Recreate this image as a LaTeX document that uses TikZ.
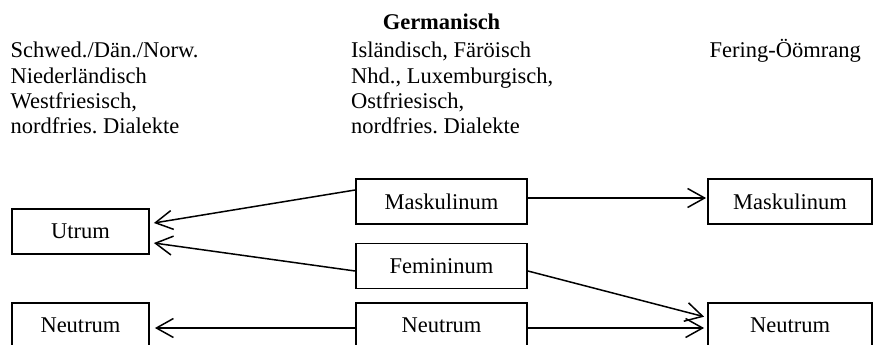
\documentclass[tikz,border=0pt]{standalone}
\usepackage{fontspec}
\setmainfont{Liberation Serif}
\usetikzlibrary{arrows.meta}
\frenchspacing
\begin{document}
\begin{tikzpicture}[x=1pt,y=-1pt,
  txt/.style={anchor=base west,inner sep=0pt,font=\fontsize{22.5}{26}\selectfont},
  gbox/.style={draw,line width=1.8pt,inner sep=0pt,minimum height=45pt,font=\fontsize{22.5}{26}\selectfont},
  arr/.style={line width=1.5pt,-{Straight Barb[length=17pt,width=19pt]}}]
\useasboundingbox (0,0) rectangle (875,345);
\clip (0,0) rectangle (875,345);
% header texts
\node[anchor=base,inner sep=0pt,font=\fontsize{22.5}{26}\selectfont\bfseries] (title) at (441.5,30) {Germanisch};
\node[txt] (a1) at (10.5,57) {Schwed./Dän./Norw.};
\node[txt] (a2) at (10.5,83) {Niederländisch};
\node[txt] (a3) at (10.5,108.5) {Westfriesisch,};
\node[txt] (a4) at (10.5,133.5) {nordfries. Dialekte};
\node[txt] (b1) at (351,57) {Isländisch, Färöisch};
\node[txt] (b2) at (351,83) {Nhd., Luxemburgisch,};
\node[txt] (b3) at (351,108.5) {Ostfriesisch,};
\node[txt] (b4) at (351,133.5) {nordfries. Dialekte};
\node[txt] (c1) at (709.5,57) {Fering-Öömrang};
% boxes
\node[gbox,minimum width=137pt] (ut) at (80.5,231.5) {Utrum};
\node[gbox,minimum width=137pt] (nl) at (80.5,325.5) {Neutrum};
\node[gbox,minimum width=171pt] (mm) at (441.5,201.5) {Maskulinum};
\node[gbox,minimum width=171pt] (mf) at (441.5,266) {Femininum};
\node[gbox,minimum width=171pt] (mn) at (441.5,325.5) {Neutrum};
\node[gbox,minimum width=164pt] (rm) at (790,201.5) {Maskulinum};
\node[gbox,minimum width=164pt] (rn) at (790,325.5) {Neutrum};
% arrows
\draw[arr] ([yshift=11.5pt]mm.west) -- ([xshift=4pt,yshift=8.5pt]ut.east);
\draw[arr] ([yshift=-5pt]mf.west) -- ([xshift=4pt,yshift=-11.5pt]ut.east);
\draw[arr] ([yshift=-2.5pt]mn.west) -- ([xshift=5pt,yshift=-2.5pt]nl.east);
\draw[arr] ([yshift=3.5pt]mm.east) -- ([xshift=-1pt,yshift=3.5pt]rm.west);
\draw[arr] ([yshift=-5pt]mf.east) -- ([xshift=-3pt,yshift=8.8pt]rn.west);
\draw[arr] ([yshift=-2.5pt]mn.east) -- ([xshift=-3pt,yshift=-2.5pt]rn.west);
\end{tikzpicture}
\end{document}
